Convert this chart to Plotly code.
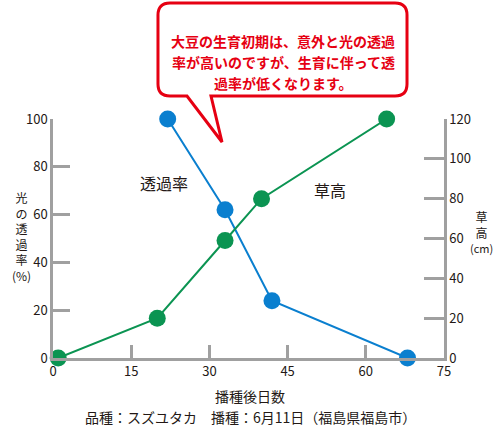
import plotly.graph_objects as go

# data
days_light = [22, 33, 42, 68]
light_pct = [100, 62, 24, 0]          # 光の透過率 (%) - left axis
days_height = [1, 20, 33, 40, 64]
height_cm = [0, 20, 59, 80, 120]      # 草高 (cm) - right axis

x_ticks = [0, 15, 30, 45, 60, 75]
left_ticks = [0, 20, 40, 60, 80, 100]
right_ticks = [0, 20, 40, 60, 80, 100, 120]

bubble_lines = ["大豆の生育初期は、意外と光の透過",
                "率が高いのですが、生育に伴って透",
                "過率が低くなります。"]
left_title = ["光", "の", "透", "過", "率", "(%)"]
right_title = ["草", "高", "(cm)"]

BLUE = "#0a7fcf"
GREEN = "#0b9452"
RED = "#e60012"
GRAY = "#a0a0a0"
INK = "#231815"
FONT = "Noto Sans CJK JP"

W, H = 500, 430
L, R, T, B = 53, 444, 119, 358


# pixel -> paper coords
def px(x):
    return (x - L) / (R - L)


def py(y):
    return (B - y) / (B - T)


fig = go.Figure()
fig.add_trace(go.Scatter(x=days_height, y=height_cm, yaxis="y2", mode="lines+markers",
                         line=dict(color=GREEN, width=2),
                         marker=dict(color=GREEN, size=17), cliponaxis=False))
fig.add_trace(go.Scatter(x=days_light, y=light_pct, mode="lines+markers",
                         line=dict(color=BLUE, width=2),
                         marker=dict(color=BLUE, size=17), cliponaxis=False))

axis_common = dict(showline=True, linecolor=GRAY, linewidth=2.5, ticks="inside",
                   tickcolor=GRAY, tickwidth=2.5, showgrid=False, zeroline=False,
                   tickfont=dict(family=FONT, size=13, color=INK), automargin=False)

fig.update_layout(
    template="none",
    width=W, height=H,
    margin=dict(l=L, r=W - R, t=T, b=H - B),
    paper_bgcolor="white", plot_bgcolor="white",
    showlegend=False,
    xaxis=dict(range=[0, 75], tickvals=x_ticks, ticklen=13, **axis_common),
    yaxis=dict(range=[0, 100], tickvals=left_ticks, ticklen=17, **axis_common),
    yaxis2=dict(range=[0, 120], tickvals=right_ticks, ticklen=20, overlaying="y",
                side="right", **axis_common),
)

# speech bubble
r = 12
x0, x1, y0, y1 = 158, 407, 3, 96
pts = [("M", x0 + r, y0), ("L", x1 - r, y0), ("Q", x1, y0, x1, y0 + r),
       ("L", x1, y1 - r), ("Q", x1, y1, x1 - r, y1), ("L", 211, y1),
       ("L", 222, 142), ("L", 187, y1), ("L", x0 + r, y1),
       ("Q", x0, y1, x0, y1 - r), ("L", x0, y0 + r), ("Q", x0, y0, x0 + r, y0)]
path = ""
for p in pts:
    cmd, coords = p[0], p[1:]
    path += cmd + " " + " ".join(
        f"{px(coords[i]):.4f},{py(coords[i + 1]):.4f}" for i in range(0, len(coords), 2)) + " "
path += "Z"
fig.add_shape(type="path", path=path, xref="paper", yref="paper",
              line=dict(color=RED, width=3), fillcolor="white", layer="above")

for i, line in enumerate(bubble_lines):
    fig.add_annotation(x=px(283), y=py(29 + 21 * i), xref="paper", yref="paper",
                       text=f"<b>{line}</b>", showarrow=False,
                       font=dict(family=FONT, size=14, color=RED))


def label(x, y, text, size=14, color=INK):
    fig.add_annotation(x=px(x), y=py(y), xref="paper", yref="paper", text=text,
                       showarrow=False, font=dict(family=FONT, size=size, color=color),
                       xanchor="center", yanchor="middle")


label(164, 183, "透過率", 16)
label(330, 190, "草高", 16)
label(250, 396, "播種後日数", 14)
label(250, 417, "品種：スズユタカ　播種：6月11日（福島県福島市）", 14)

# vertical axis titles, one character per line
label(21, 236, "<br>".join(left_title), 12)
label(481, 232, "<br>".join(right_title[:2]) + "<br><span style='font-size:11px'>"
      + right_title[2] + "</span>", 12)

fig.write_html("out.html", config={"displayModeBar": False},
               post_script="document.body.style.margin='0';")
